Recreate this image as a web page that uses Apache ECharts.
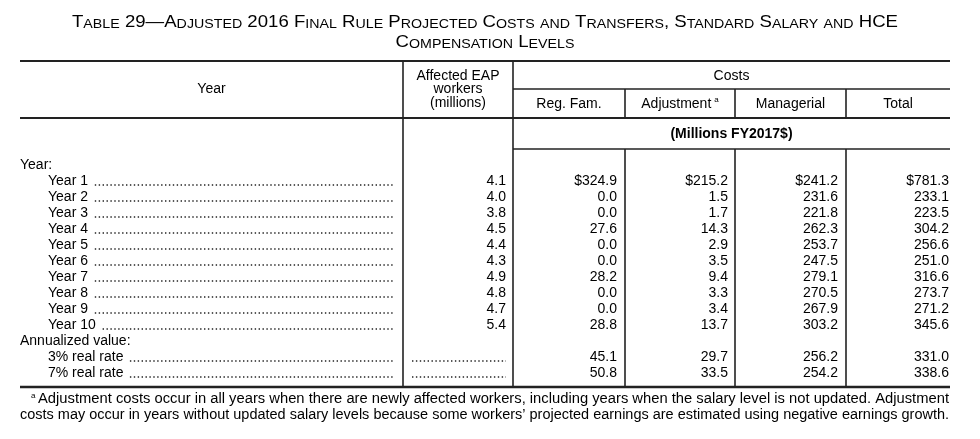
<!DOCTYPE html>
<html><head><meta charset="utf-8">
<script src="https://cdn.jsdelivr.net/npm/echarts@6/dist/echarts.min.js"></script>
<style>html,body{margin:0;padding:0;background:#fff}#c{width:980px;height:439px}</style>
</head><body><div id="c"></div><script>
// ---------- data ----------
const titleLines = ['Table 29\u2014Adjusted 2016 Final Rule Projected Costs and Transfers, Standard Salary and HCE', 'Compensation Levels'];
const yearHeader = 'Year';
const eapHeader = ['Affected EAP', 'workers', '(millions)'];
const costsHeader = 'Costs';
const costColumns = ['Reg. Fam.', 'Adjustment', 'Managerial', 'Total'];
const unitsLabel = '(Millions FY2017$)';
const rowLabels = ['Year:', 'Year 1', 'Year 2', 'Year 3', 'Year 4', 'Year 5', 'Year 6', 'Year 7', 'Year 8', 'Year 9', 'Year 10', 'Annualized value:', '3% real rate', '7% real rate'];
const eapWorkers = [null, 4.1, 4.0, 3.8, 4.5, 4.4, 4.3, 4.9, 4.8, 4.7, 5.4, null, null, null];
const regFam     = [null, 324.9, 0.0, 0.0, 27.6, 0.0, 0.0, 28.2, 0.0, 0.0, 28.8, null, 45.1, 50.8];
const adjustment = [null, 215.2, 1.5, 1.7, 14.3, 2.9, 3.5, 9.4, 3.3, 3.4, 13.7, null, 29.7, 33.5];
const managerial = [null, 241.2, 231.6, 221.8, 262.3, 253.7, 247.5, 279.1, 270.5, 267.9, 303.2, null, 256.2, 254.2];
const total      = [null, 781.3, 233.1, 223.5, 304.2, 256.6, 251.0, 316.6, 273.7, 271.2, 345.6, null, 331.0, 338.6];
const dollarRows = ['Year 1'];
const dottedEapRows = ['3% real rate', '7% real rate'];
const footnoteMark = 'a';
const footnote = ['Adjustment costs occur in all years when there are newly affected workers, including years when the salary level is not updated. Adjustment',
  'costs may occur in years without updated salary levels because some workers\u2019 projected earnings are estimated using negative earnings growth.'];

// ---------- layout / style ----------
const FF = '"Liberation Sans", Arial, Helvetica, sans-serif';
const FS = 14;
const INK = '#000';
const RULE = '#222';
const L = {
  left: 20, right: 950, indent: 48, leaderEnd: 395,
  vYear: 403, vEap: 513, vCost: [625, 735, 846],
  colRight: [506, 617, 728, 838, 949],
  top: 61, costsLine: 89, headBottom: 118, unitsBottom: 149, bottom: 387
};

function measure(text, size, weight) {
  const c = measure.c || (measure.c = document.createElement('canvas').getContext('2d'));
  c.font = (weight || 'normal') + ' ' + size + 'px ' + FF;
  return c.measureText(text).width;
}
const BIG = 17, SMALL = 13;
function smallCaps(str) {
  let out = '', w = 0, m; const re = /([a-z]+)|([^a-z]+)/g;
  while ((m = re.exec(str))) {
    if (m[1]) { const t = m[1].toUpperCase(); out += '{s|' + t + '}'; w += measure(t, SMALL); }
    else { out += '{b|' + m[2] + '}'; w += measure(m[2], BIG); }
  }
  return { text: out, width: w };
}
const t1 = smallCaps(titleLines[0]);
const t2 = smallCaps(titleLines[1]);
const titleScale = 826 / t1.width;
const titleRich = {
  b: { fontSize: BIG, fontFamily: FF, fill: INK, lineHeight: BIG, verticalAlign: 'bottom' },
  s: { fontSize: SMALL, fontFamily: FF, fill: INK, lineHeight: BIG, verticalAlign: 'bottom' }
};

function txt(x, y, text, opt) {
  opt = opt || {};
  return { type: 'text', x: x, y: y, scaleX: opt.scaleX || 1, silent: true,
    style: { text: text, fontFamily: FF, fontSize: opt.size || FS, fontWeight: opt.weight || 'normal',
      fill: INK, align: opt.align || 'center', verticalAlign: 'middle', rich: opt.rich } };
}
function ln(x1, y1, x2, y2, w) {
  return { type: 'line', silent: true, shape: { x1: x1, y1: y1, x2: x2, y2: y2 }, style: { stroke: RULE, lineWidth: w || 1.5 } };
}

const g = [];
g.push(txt(485, 22, t1.text, { rich: titleRich, scaleX: titleScale }));
g.push(txt(485, 42, t2.text, { rich: titleRich, scaleX: titleScale }));
// rules
g.push(ln(L.left, L.top, L.right, L.top, 2));
g.push(ln(L.vEap, L.costsLine, L.right, L.costsLine, 1.5));
g.push(ln(L.left, L.headBottom, L.right, L.headBottom, 2));
g.push(ln(L.vEap, L.unitsBottom, L.right, L.unitsBottom, 1.5));
g.push(ln(L.left, L.bottom, L.right, L.bottom, 2.5));
g.push(ln(L.vYear, L.top, L.vYear, L.bottom, 1.6));
g.push(ln(L.vEap, L.top, L.vEap, L.bottom, 1.6));
L.vCost.forEach(function (x) {
  g.push(ln(x, L.costsLine, x, L.headBottom, 1.6));
  g.push(ln(x, L.unitsBottom, x, L.bottom, 1.6));
});
// header text
g.push(txt((L.left + L.vYear) / 2, 89, yearHeader));
eapHeader.forEach(function (t, i) { g.push(txt((L.vYear + L.vEap) / 2, 76 + i * 13.5, t)); });
g.push(txt((L.vEap + L.right) / 2, 76, costsHeader));
const colEdges = [L.vEap].concat(L.vCost).concat([L.right]);
costColumns.forEach(function (t, i) {
  const cx = (colEdges[i] + colEdges[i + 1]) / 2;
  if (i === 1) {
    const w = measure(t, FS), sw = measure(footnoteMark, 8) + 3;
    const start = cx - (w + sw) / 2;
    g.push(txt(start, 104, t, { align: 'left' }));
    g.push(txt(start + w + 3, 100, footnoteMark, { align: 'left', size: 8 }));
  } else {
    g.push(txt(cx, 104, t));
  }
});
g.push(txt((L.vEap + L.right) / 2, 134, unitsLabel, { weight: 'bold' }));
// footnote
const fn1Start = 38, fn2Start = 20, fnEnd = 949;
g.push(txt(31, 396, footnoteMark, { align: 'left', size: 8 }));
g.push(txt(fn1Start, 399, footnote[0], { align: 'left', scaleX: (fnEnd - fn1Start) / measure(footnote[0], FS) }));
g.push(txt(fn2Start, 415, footnote[1], { align: 'left', scaleX: (fnEnd - fn2Start) / measure(footnote[1], FS) }));

const valueCols = [eapWorkers, regFam, adjustment, managerial, total];

function fmt(v, i, c) {
  if (v == null) return '';
  return (c > 0 && dollarRows.indexOf(rowLabels[i]) >= 0 ? '$' : '') + v.toFixed(1);
}

function renderItem(params, api) {
  const i = params.dataIndex;
  const y = api.coord([0, i])[1];
  const X = function (x) { return api.coord([x, i])[0]; };
  const label = rowLabels[i];
  const isGroup = /:$/.test(label);
  const lx = X(isGroup ? L.left : L.indent);
  const kids = [];
  const dot = function (x1, x2) {
    return { type: 'line', shape: { x1: x1, y1: y + 4, x2: x2, y2: y + 4 },
      style: { stroke: '#222', lineWidth: 1.4, lineDash: [1.4, 2.5] } };
  };
  if (!isGroup) kids.push(dot(lx, X(L.leaderEnd)));
  kids.push({ type: 'text', x: lx, y: y, style: { text: label, fontFamily: FF, fontSize: FS, fill: INK,
    align: 'left', verticalAlign: 'middle', backgroundColor: '#fff', padding: [0, 5, 0, 0] } });
  if (dottedEapRows.indexOf(label) >= 0) kids.push(dot(X(L.vYear + 9), X(L.colRight[0])));
  valueCols.forEach(function (arr, c) {
    const s = fmt(arr[i], i, c);
    if (s) kids.push({ type: 'text', x: X(L.colRight[c]), y: y, style: { text: s, fontFamily: FF, fontSize: FS,
      fill: INK, align: 'right', verticalAlign: 'middle' } });
  });
  return { type: 'group', children: kids };
}

const chart = echarts.init(document.getElementById('c'), null, { renderer: 'canvas' });
chart.setOption({
  animation: false,
  backgroundColor: '#fff',
  grid: { left: 0, right: 0, top: 157, bottom: 58 },
  xAxis: { type: 'value', min: 0, max: 980, show: false },
  yAxis: { type: 'category', data: rowLabels, inverse: true, show: false },
  graphic: g,
  series: [{ type: 'custom', silent: true, renderItem: renderItem,
    encode: { x: 0, y: 1 },
    data: rowLabels.map(function (_, i) { return [0, i]; }) }]
});
</script></body></html>
